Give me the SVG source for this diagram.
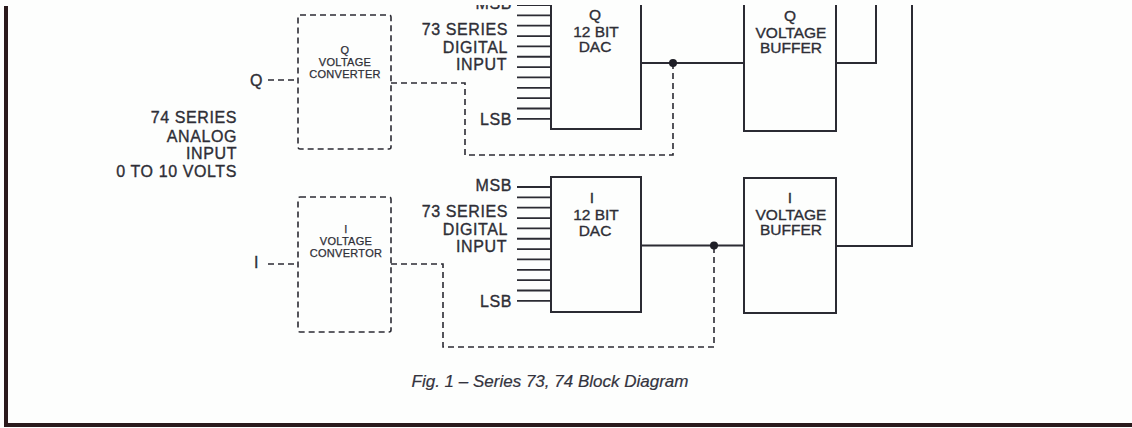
<svg xmlns="http://www.w3.org/2000/svg" width="1132" height="428" viewBox="0 0 1132 428">
<style>
.bg{fill:#fdfefd}
.frame{fill:#2a1a1c}
.solid{fill:none;stroke:#2b2b33;stroke-width:2}
.dash{fill:none;stroke:#2b2b33;stroke-width:1.6;stroke-dasharray:6 4}
.box{fill:none;stroke:#2b2b33;stroke-width:1.6;stroke-dasharray:6 4}
.pin{stroke:#2b2b33;stroke-width:1.8}
.lbl{font-family:"Liberation Sans",Arial,sans-serif;font-size:16px;fill:#2e2e36;stroke:#2e2e36;stroke-width:0.35px;letter-spacing:0.6px}
.blk{font-family:"Liberation Sans",Arial,sans-serif;font-size:15.5px;fill:#2e2e36;stroke:#2e2e36;stroke-width:0.35px;text-anchor:middle}
.cv{font-family:"Liberation Sans",Arial,sans-serif;font-size:11px;fill:#2e2e36;stroke:#2e2e36;stroke-width:0.25px;text-anchor:middle;letter-spacing:0.3px}
.end{text-anchor:end}
.cap{font-family:"Liberation Sans",Arial,sans-serif;font-size:17px;font-style:italic;fill:#33333d;stroke:#33333d;stroke-width:0.2px;text-anchor:middle}
</style>
<defs>
<clipPath id="clip"><rect x="0" y="5" width="1132" height="423"/></clipPath>
</defs>
<rect class="bg" x="0" y="0" width="1132" height="428"/>
<g id="frame">
<rect class="frame" x="4" y="6" width="4" height="421"/>
<rect class="frame" x="4" y="423" width="1128" height="4"/>
</g>
<g clip-path="url(#clip)">
<g id="input-label">
<text class="lbl end" x="237" y="123">74 SERIES</text>
<text class="lbl end" x="237" y="141.5">ANALOG</text>
<text class="lbl end" x="237" y="159">INPUT</text>
<text class="lbl end" x="237" y="176.5">0 TO 10 VOLTS</text>
<text class="lbl end" x="263" y="86">Q</text>
<text class="lbl end" x="259" y="268">I</text>
</g>
<g id="q-converter">
<rect class="box" x="298" y="15" width="93" height="134" rx="2"/>
<text class="cv" x="345" y="54">Q</text>
<text class="cv" x="345" y="66">VOLTAGE</text>
<text class="cv" x="345" y="77.5">CONVERTER</text>
</g>
<g id="i-converter">
<rect class="box" x="298" y="197" width="93" height="135" rx="2"/>
<text class="cv" x="346" y="233">I</text>
<text class="cv" x="346" y="245">VOLTAGE</text>
<text class="cv" x="346" y="256.5">CONVERTOR</text>
</g>
<g id="q-dac">
<rect class="solid" x="551" y="-6" width="90" height="135"/>
<text class="blk" x="595" y="20">Q</text>
<text class="blk" x="596" y="37">12 BIT</text>
<text class="blk" x="595" y="52">DAC</text>
<g class="pin">
<line x1="517" y1="5" x2="551" y2="5"/><line x1="517" y1="15.35" x2="551" y2="15.35"/><line x1="517" y1="25.7" x2="551" y2="25.7"/><line x1="517" y1="36.05" x2="551" y2="36.05"/><line x1="517" y1="46.4" x2="551" y2="46.4"/><line x1="517" y1="56.75" x2="551" y2="56.75"/><line x1="517" y1="67.1" x2="551" y2="67.1"/><line x1="517" y1="77.45" x2="551" y2="77.45"/><line x1="517" y1="87.8" x2="551" y2="87.8"/><line x1="517" y1="98.15" x2="551" y2="98.15"/><line x1="517" y1="108.5" x2="551" y2="108.5"/><line x1="517" y1="118.85" x2="551" y2="118.85"/>
</g>
<text class="lbl end" x="512" y="8.7">MSB</text>
<text class="lbl end" x="508" y="34.7">73 SERIES</text>
<text class="lbl end" x="508" y="53">DIGITAL</text>
<text class="lbl end" x="507" y="70.3">INPUT</text>
<text class="lbl end" x="512" y="124.7">LSB</text>
</g>
<g id="i-dac">
<rect class="solid" x="551" y="177" width="90" height="135"/>
<text class="blk" x="592" y="203">I</text>
<text class="blk" x="596" y="220">12 BIT</text>
<text class="blk" x="595" y="235.5">DAC</text>
<g class="pin">
<line x1="517" y1="187" x2="551" y2="187"/><line x1="517" y1="197.35" x2="551" y2="197.35"/><line x1="517" y1="207.7" x2="551" y2="207.7"/><line x1="517" y1="218.05" x2="551" y2="218.05"/><line x1="517" y1="228.4" x2="551" y2="228.4"/><line x1="517" y1="238.75" x2="551" y2="238.75"/><line x1="517" y1="249.1" x2="551" y2="249.1"/><line x1="517" y1="259.45" x2="551" y2="259.45"/><line x1="517" y1="269.8" x2="551" y2="269.8"/><line x1="517" y1="280.15" x2="551" y2="280.15"/><line x1="517" y1="290.5" x2="551" y2="290.5"/><line x1="517" y1="300.85" x2="551" y2="300.85"/>
</g>
<text class="lbl end" x="512" y="190.7">MSB</text>
<text class="lbl end" x="508" y="216.7">73 SERIES</text>
<text class="lbl end" x="508" y="235">DIGITAL</text>
<text class="lbl end" x="507" y="252.3">INPUT</text>
<text class="lbl end" x="512" y="306.7">LSB</text>
</g>
<g id="q-buffer">
<rect class="solid" x="744" y="-6" width="92" height="137"/>
<text class="blk" x="790" y="21">Q</text>
<text class="blk" x="791" y="38">VOLTAGE</text>
<text class="blk" x="791" y="53">BUFFER</text>
</g>
<g id="i-buffer">
<rect class="solid" x="744" y="178" width="92" height="135"/>
<text class="blk" x="790" y="203">I</text>
<text class="blk" x="791" y="220">VOLTAGE</text>
<text class="blk" x="791" y="235">BUFFER</text>
</g>
<g id="connectors">
<line class="dash" x1="268" y1="80" x2="298" y2="80"/>
<line class="dash" x1="268" y1="264" x2="298" y2="264"/>
<polyline class="dash" points="391,83 465,83 465,155 673,155 673,63"/>
<polyline class="dash" points="391,264 443,264 443,347 714,347 714,246"/>
<line class="solid" x1="641" y1="63" x2="744" y2="63"/>
<line class="solid" x1="641" y1="245.5" x2="744" y2="245.5"/>
<circle cx="673" cy="63" r="4" fill="#1e1e26"/>
<circle cx="714" cy="245.5" r="4" fill="#1e1e26"/>
<polyline class="solid" points="836,63 876,63 876,0"/>
<polyline class="solid" points="836,246 912,246 912,0"/>
</g>
</g>
<text class="cap" x="550" y="387">Fig. 1 – Series 73, 74 Block Diagram</text>
</svg>
